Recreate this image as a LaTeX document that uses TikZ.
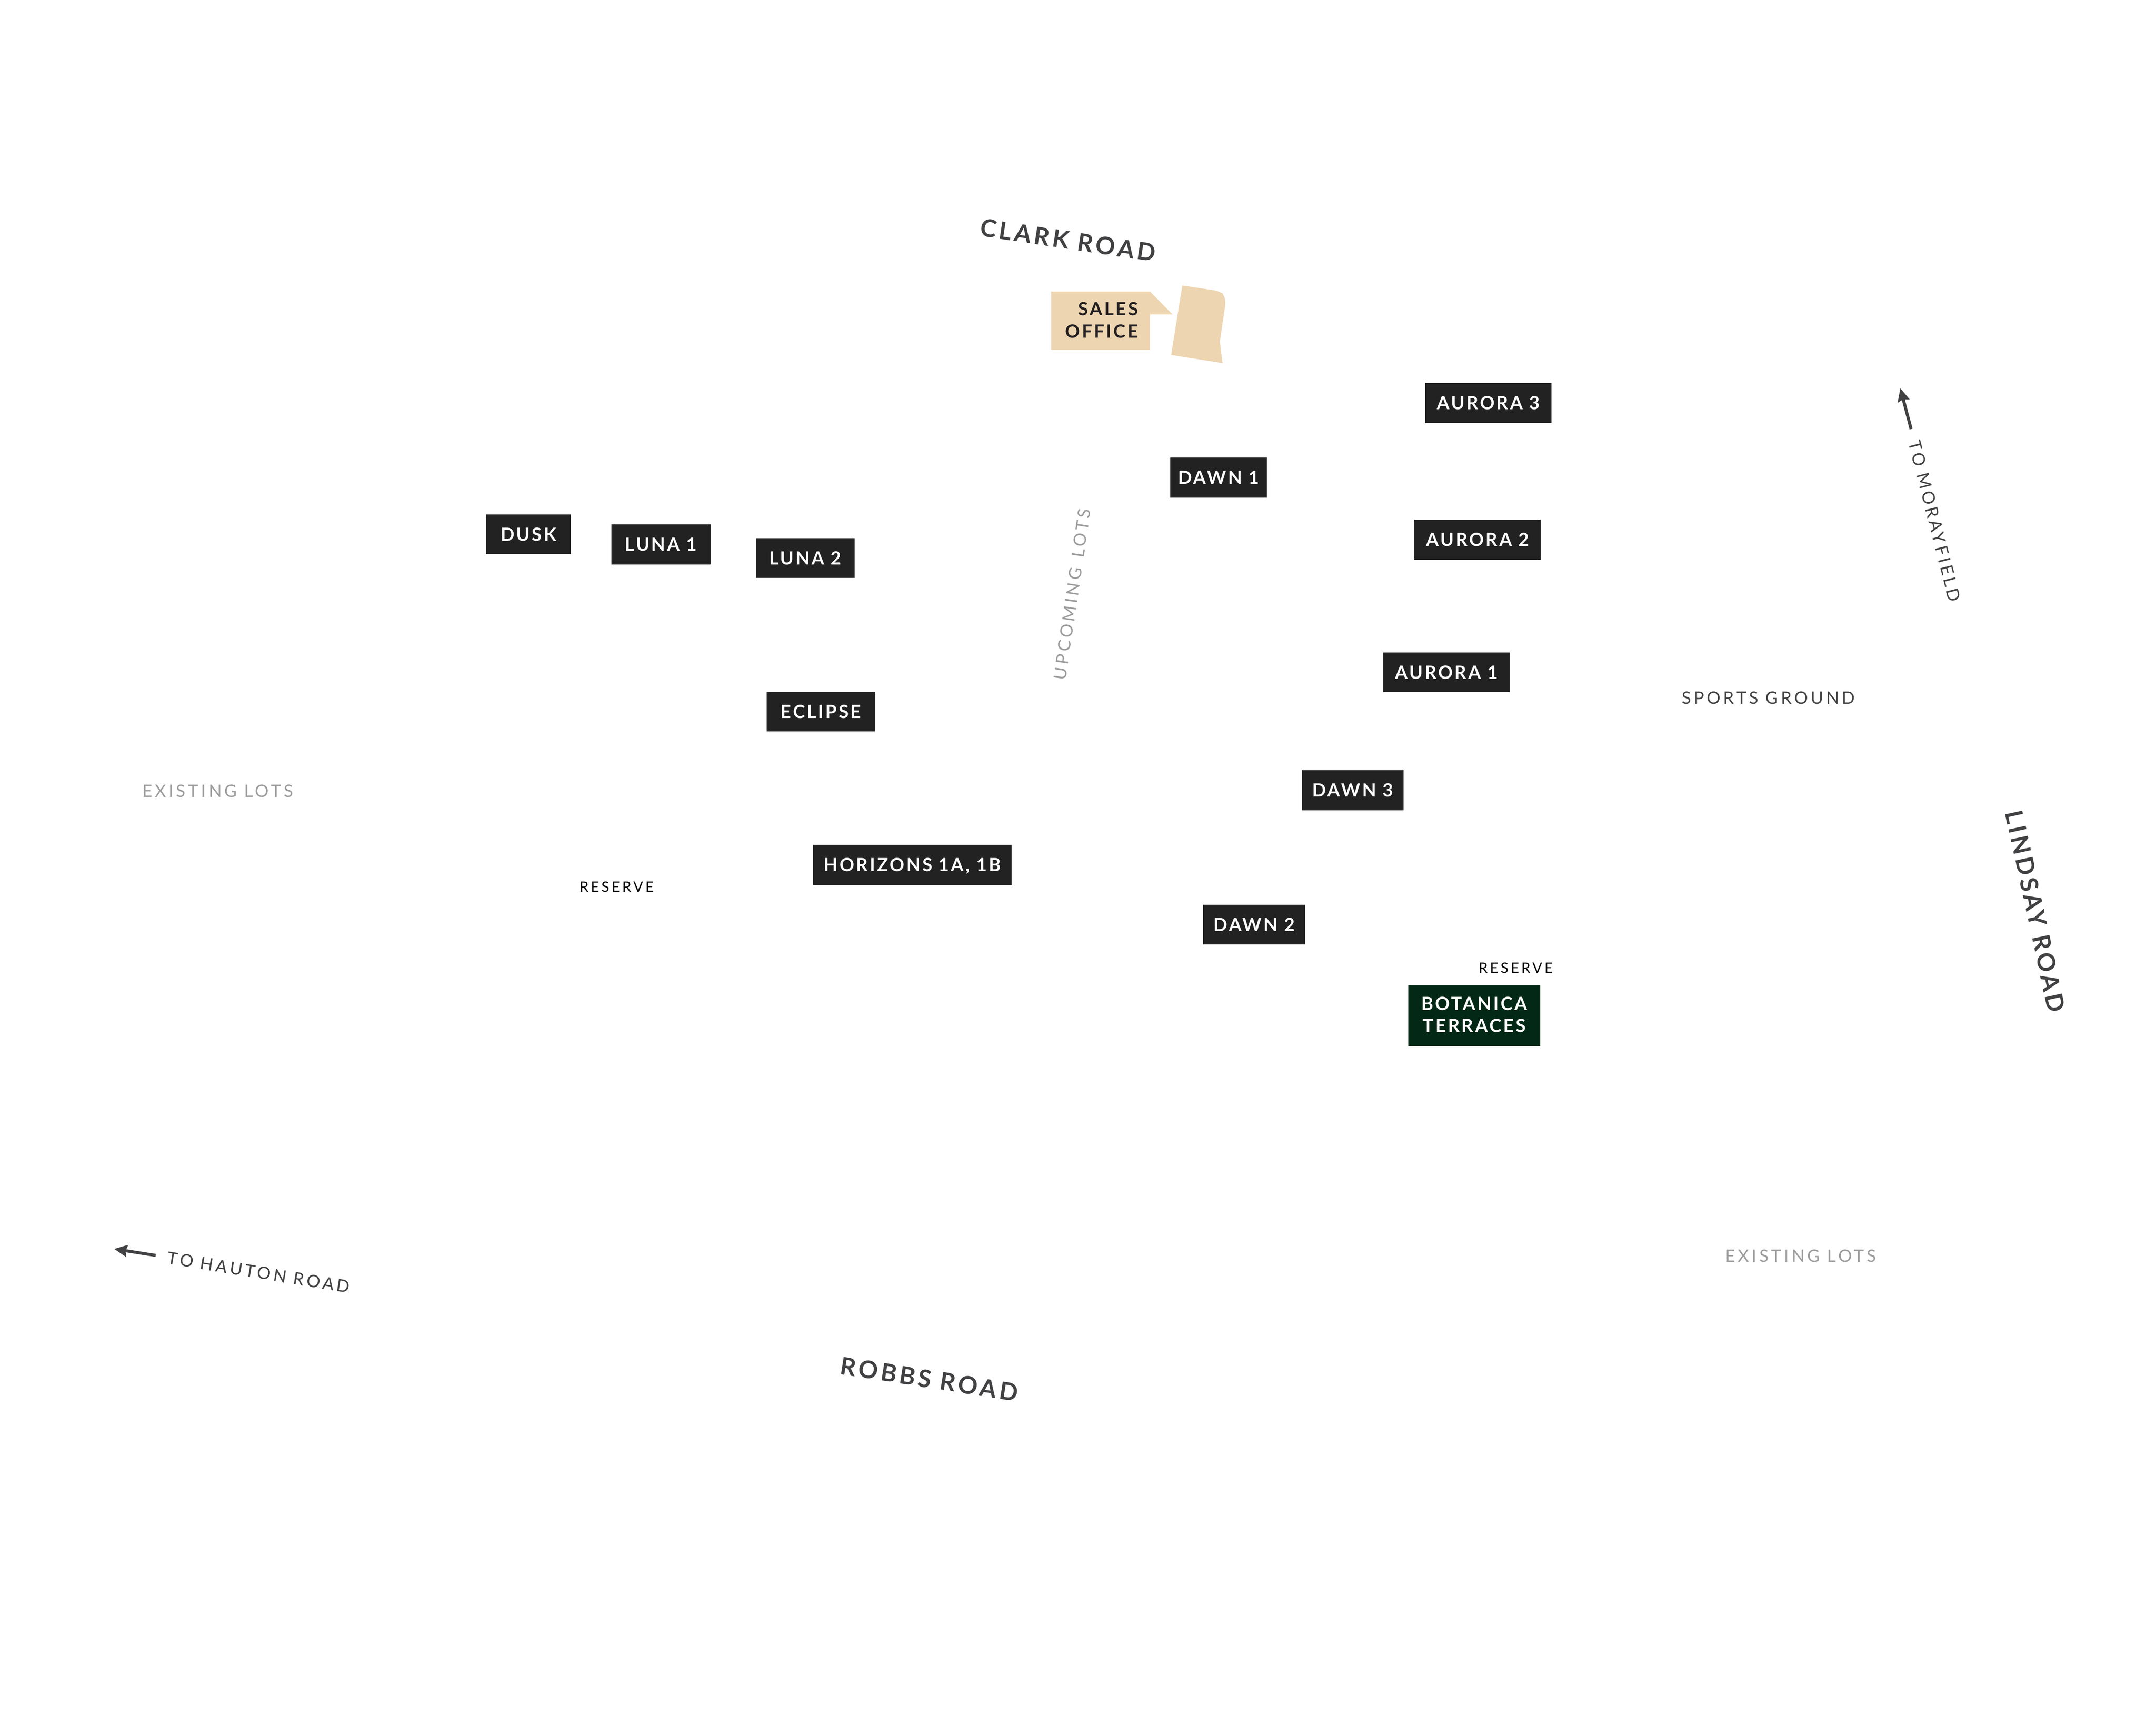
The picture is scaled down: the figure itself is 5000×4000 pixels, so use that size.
\documentclass[tikz,border=0pt]{standalone}
\usepackage{fontspec}
\usepackage{xcolor}
\usepackage{tikz}
\usetikzlibrary{arrows.meta}
\setmainfont{Lato}
\newfontfamily\lotfont[LetterSpace=10.5]{Lato Bold}
\newfontfamily\roadfont[LetterSpace=12]{Lato Bold}
\newfontfamily\thinfont[LetterSpace=16]{Lato}
\definecolor{lotdark}{HTML}{222222}
\definecolor{lotgreen}{HTML}{032916}
\definecolor{salestan}{HTML}{EDD5B1}
\definecolor{inkdark}{HTML}{231F20}
\definecolor{roadgray}{HTML}{414042}
\definecolor{lotsgray}{HTML}{9B9B9B}

\begin{document}
\begin{tikzpicture}[
    x=0.01cm, y=-0.01cm,
    lot/.style={rectangle, fill=lotdark, text=white, inner sep=0pt, minimum height=0.925cm, text height=8.6pt, text depth=0pt, font=\lotfont\fontsize{12}{14.7}\selectfont},
    road/.style={inner sep=0pt, text=roadgray, text height=11.5pt, text depth=0pt, font=\roadfont\fontsize{16}{18}\selectfont},
    place/.style={inner sep=0pt, text=roadgray, text height=8.3pt, text depth=0pt, font=\thinfont\fontsize{11.3}{14}\selectfont},
    lots/.style={place, text=lotsgray},
    reserve/.style={inner sep=0pt, text=black, text height=6.8pt, text depth=0pt, font=\thinfont\fontsize{9.5}{12}\selectfont},
    pointer/.style={-{Stealth[length=8.5pt, width=7.8pt, inset=1pt]}, line width=2pt, roadgray}
]
\useasboundingbox (0,0) rectangle (5000,4000);

% Sales office
\fill[salestan] (2438,676) -- (2667,676) -- (2719,729) -- (2667,729) -- (2667,811) -- (2438,811) -- cycle;
\fill[salestan] (2742,662) -- (2821,674) -- (2835,680) -- (2840,690) -- (2842,703) -- (2829,792) -- (2835,842) -- (2716,823) -- cycle;
\node[inner sep=0pt, align=right, anchor=east, text=inkdark, font=\lotfont\fontsize{12}{14.7}\selectfont] (SALES) at (2640,742) {SALES\\OFFICE};

% Lots - west side
\node[lot, minimum width=1.97cm] (DUSK) at (1225.5,1239) {DUSK};
\node[lot, minimum width=2.30cm] (L1) at (1533,1262.5) {LUNA 1};
\node[lot, minimum width=2.29cm] (L2) at (1867.5,1294) {LUNA 2};
\node[lot, minimum width=2.52cm] (ECL) at (1904,1650) {ECLIPSE};
\node[lot, minimum width=4.61cm] (HOR) at (2115.5,2005.5) {HORIZONS 1A, 1B};

% Lots - east side
\node[lot, minimum width=2.93cm] (A3) at (3451.5,934.5) {AURORA 3};
\node[lot, minimum width=2.93cm] (A2) at (3426.5,1251.5) {AURORA 2};
\node[lot, minimum width=2.93cm] (A1) at (3354.5,1559) {AURORA 1};
\node[lot, minimum width=2.24cm] (D1) at (2826,1107.5) {DAWN 1};
\node[lot, minimum width=2.36cm] (D3) at (3137,1832.5) {DAWN 3};
\node[lot, minimum width=2.37cm] (D2) at (2908.5,2144) {DAWN 2};
\node[rectangle, fill=lotgreen, text=white, inner sep=0pt, minimum width=3.06cm, minimum height=1.41cm, align=center, text depth=1.7pt, font=\lotfont\fontsize{12}{14.7}\selectfont] (BOT) at (3419,2355.5) {BOTANICA\\TERRACES};

% Roads
\node[road, rotate=-8.5] (CLARK) at (2477,557) {CLARK ROAD};
\node[road, rotate=-77.8] (LINDSAY) at (4720,2113) {LINDSAY ROAD};
\node[road, rotate=-8.8] (ROBBS) at (2155,3198) {ROBBS ROAD};

% Place names
\node[place] (SPORTS) at (4101,1618) {SPORTS GROUND};
\node[lots] (EXW) at (505,1834) {EXISTING LOTS};
\node[lots] (EXE) at (4176,2912) {EXISTING LOTS};
\node[lots, rotate=81.6] (UP) at (2486,1378) {UPCOMING\hspace{0.6em}LOTS};
\node[reserve] (RESW) at (1430,2057) {RESERVE};
\node[reserve] (RESE) at (3515,2245) {RESERVE};

% Directions
\node[place, rotate=-75.7] (MOR) at (4487,1208) {TO MORAYFIELD};
\node[place, rotate=-9.2] (HAU) at (600,2950) {TO HAUTON ROAD};
\coordinate (MORa) at (4432,995);
\coordinate (MORb) at (4407,900.5);
\coordinate (HAUa) at (361,2911);
\coordinate (HAUb) at (265,2896);
\draw[pointer] (MORa) -- (MORb);
\draw[pointer] (HAUa) -- (HAUb);

\end{tikzpicture}
\end{document}
